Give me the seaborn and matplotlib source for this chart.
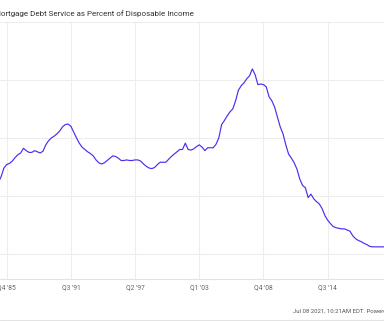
import matplotlib
matplotlib.use("Agg")
import matplotlib.pyplot as plt
import seaborn as sns
import pandas as pd
import numpy as np

# ---- data ----
start_quarter = "1985Q1"
mdsp_values = [
    5.23, 5.33, 5.48, 5.54, 5.56, 5.60, 5.66, 5.71, 5.74, 5.82,
    5.78, 5.75, 5.75, 5.78, 5.76, 5.74, 5.77, 5.88, 5.95, 6.00,
    6.03, 6.07, 6.12, 6.19, 6.23, 6.24, 6.20, 6.10, 6.00, 5.91,
    5.84, 5.80, 5.76, 5.73, 5.69, 5.62, 5.57, 5.55, 5.57, 5.61,
    5.65, 5.69, 5.68, 5.65, 5.61, 5.61, 5.62, 5.61, 5.61, 5.62,
    5.62, 5.60, 5.55, 5.51, 5.48, 5.47, 5.49, 5.54, 5.58, 5.58,
    5.58, 5.63, 5.68, 5.72, 5.76, 5.80, 5.80, 5.91, 5.80, 5.79,
    5.81, 5.85, 5.88, 5.84, 5.78, 5.83, 5.83, 5.83, 5.89, 6.00,
    6.23, 6.30, 6.38, 6.45, 6.50, 6.64, 6.82, 6.90, 6.95, 7.02,
    7.07, 7.19, 7.09, 6.92, 6.93, 6.92, 6.88, 6.71, 6.64, 6.53,
    6.36, 6.19, 6.07, 5.88, 5.72, 5.65, 5.57, 5.46, 5.29, 5.18,
    5.14, 4.97, 5.03, 4.95, 4.90, 4.86, 4.78, 4.66, 4.58, 4.52,
    4.47, 4.45, 4.44, 4.43, 4.43, 4.41, 4.39, 4.31, 4.26, 4.23,
    4.21, 4.18, 4.16, 4.13, 4.12, 4.12, 4.12, 4.12, 4.12, 4.12,
]
tick_positions = [1985.75, 1991.5, 1997.25, 2003.0, 2008.75, 2014.5]
tick_labels = ["Q4 '85", "Q3 '91", "Q2 '97", "Q1 '03", "Q4 '08", "Q3 '14"]
y_gridlines = [4, 5, 6, 7, 8]
title_text = "Mortgage Debt Service as Percent of Disposable Income"
footer_text = "Jul 08 2021, 10:21AM EDT. Powered by YCharts"

periods = pd.period_range(start_quarter, periods=len(mdsp_values), freq="Q")
df = pd.DataFrame({
    "t": periods.year + (periods.quarter - 1) / 4.0,
    "value": mdsp_values,
})

sns.set_style("white")
plt.rcParams["font.family"] = ["Roboto", "DejaVu Sans"]

W, H = 384, 321
fig = plt.figure(figsize=(W / 100, H / 100), dpi=100)
fig.patch.set_facecolor("white")

ax_top_px, ax_bot_px = 22, 279
ax = fig.add_axes([0, 1 - ax_bot_px / H, 1, (ax_bot_px - ax_top_px) / H])

sns.lineplot(data=df, x="t", y="value", ax=ax, color="#4f2cf0", linewidth=0.85)

ax.set_xlim(1985.15, 2019.545)
ax.set_ylim(3.565, 8.0)
ax.set_xticks(tick_positions)
ax.set_xticklabels(tick_labels)
ax.set_yticks(y_gridlines)
ax.set_yticklabels([])
ax.tick_params(axis="both", length=0)
ax.tick_params(axis="x", pad=3.6, labelsize=4.9, colors="#666666")
ax.grid(True, color="#ededed", linewidth=0.8)
ax.set_axisbelow(True)
for s in ["left", "right", "top"]:
    ax.spines[s].set_visible(False)
ax.spines["bottom"].set_color("#e3e3e3")
ax.spines["bottom"].set_linewidth(0.8)
ax.set_xlabel("")
ax.set_ylabel("")

# title (left part cropped, as in the reference)
fig.text(-6.2 / W, 1 - 13.5 / H, title_text, ha="left", va="center",
         fontsize=5.72, color="#333333")
# footer (right part cropped)
fig.text(293 / W, 1 - 311 / H, footer_text, ha="left", va="center",
         fontsize=4.3, color="#555555")
# bottom border line
fig.add_artist(plt.Line2D([0, 1], [1 - 319.5 / H] * 2, color="#e3e3e3",
                          linewidth=0.8, transform=fig.transFigure))

fig.savefig("out.png", dpi=100, facecolor="white")
